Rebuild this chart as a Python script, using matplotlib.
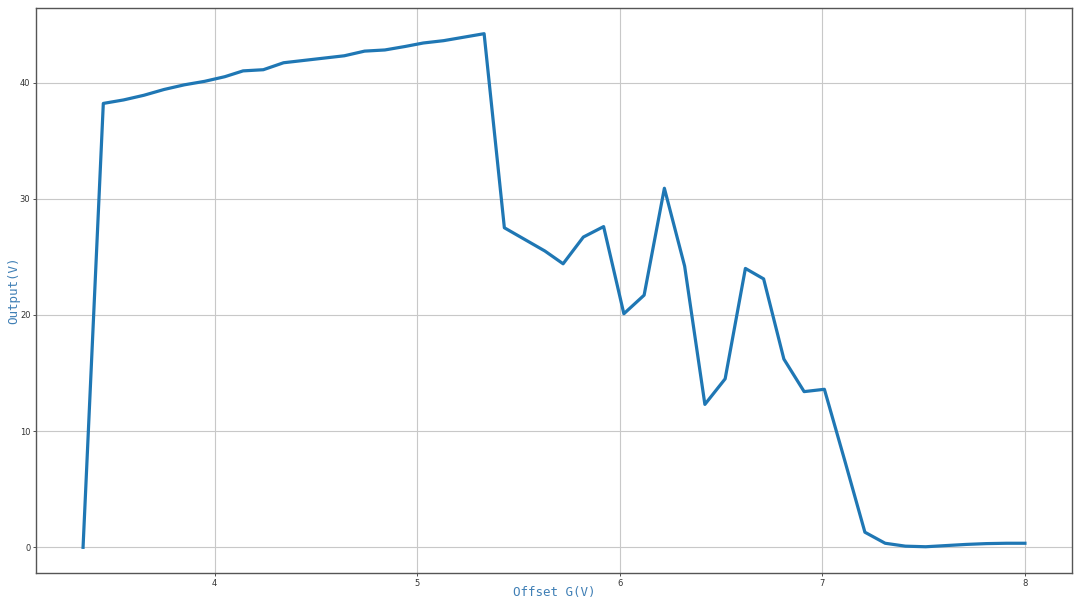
import matplotlib
matplotlib.use("Agg")
import matplotlib.pyplot as plt

offset_g = [3.35, 3.45, 3.55, 3.65, 3.75, 3.85, 3.95, 4.05, 4.14, 4.24,
            4.34, 4.44, 4.54, 4.64, 4.74, 4.84, 4.94, 5.03, 5.13, 5.23,
            5.33, 5.43, 5.53, 5.63, 5.72, 5.82, 5.92, 6.02, 6.12, 6.22,
            6.32, 6.42, 6.52, 6.62, 6.71, 6.81, 6.91, 7.01, 7.11, 7.21,
            7.31, 7.41, 7.51, 7.61, 7.71, 7.81, 7.91, 8.00]
output_v = [0.0, 38.2, 38.5, 38.9, 39.4, 39.8, 40.1, 40.5, 41.0, 41.1,
            41.7, 41.9, 42.1, 42.3, 42.7, 42.8, 43.1, 43.4, 43.6, 43.9,
            44.2, 27.5, 26.5, 25.5, 24.4, 26.7, 27.6, 20.1, 21.7, 30.9,
            24.2, 12.3, 14.5, 24.0, 23.1, 16.2, 13.4, 13.6, 7.5, 1.3,
            0.35, 0.1, 0.05, 0.15, 0.25, 0.32, 0.35, 0.35]
xlabel = "Offset G(V)"
ylabel = "Output(V)"

fig = plt.figure(figsize=(10.8, 6.07), dpi=100)
ax = fig.add_axes([0.0333, 0.056, 0.9593, 0.9308])
ax.plot(offset_g, output_v, color="#1f77b4", linewidth=2.3)
ax.grid(True, color="#c8c8c8", linewidth=0.8)
ax.set_axisbelow(True)
ax.set_xticks([4, 5, 6, 7, 8])
ax.set_yticks([0, 10, 20, 30, 40])
ax.tick_params(labelsize=6, length=2, width=0.6, colors="#333333", pad=2)
for s in ax.spines.values():
    s.set_color("#555555")
    s.set_linewidth(1.0)
ax.set_xlabel(xlabel, family=["DejaVu Sans Mono"], fontsize=9, color="#3f7fb5")
ax.set_ylabel(ylabel, family=["DejaVu Sans Mono"], fontsize=9, color="#3f7fb5")
ax.xaxis.set_label_coords(0.5, -0.035, transform=ax.transAxes)
ax.xaxis.label.set_verticalalignment("center")
ax.yaxis.set_label_coords(-0.021, 0.5, transform=ax.transAxes)
ax.yaxis.label.set_verticalalignment("center")
fig.savefig("out.png", dpi=100)
